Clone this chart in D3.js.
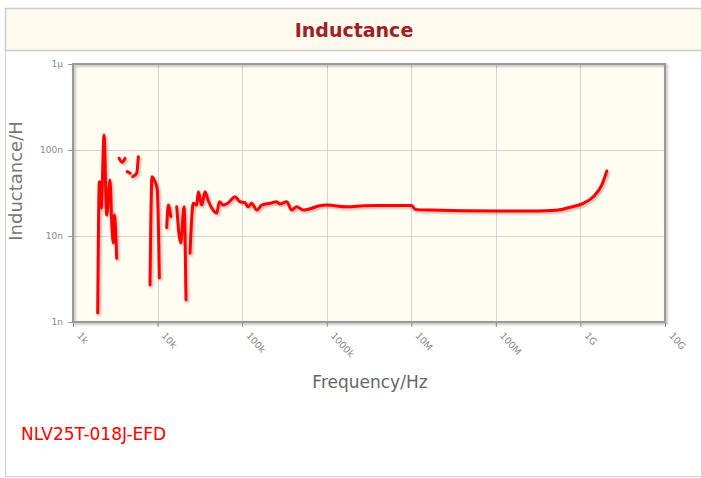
<!DOCTYPE html>
<html lang="en">
<head>
<meta charset="utf-8" />
<script src="https://d3js.org/d3.v7.min.js"></script>
<style>
  body { margin: 0; background: #fff; font-family: "DejaVu Sans", sans-serif; }
</style>
</head>
<body>
<div id="chart"></div>
<script>
// frequency in Hz, inductance in nH; null marks a gap in the trace
var freqHz = [
  1960, 2050, 2126, 2161, 2326, 2503, 2738, 2869, 2996, 3079, 3287, null,
  3499, 3828, 4120, null,
  4386, 4721, null,
  5081, 5665, 5919, null,
  8139, 8596, 9324, 9927, 10484, null,
  12823, 13397, 14296, null,
  16832, 18770, 20540, 21680, null,
  24180, 26450, 29020, 30310, 33250, 36390, 39460, 43650, 50040, 53700, 59840,
  68070, 82330, 94340, 108100, 117300, 129700, 148600, 170300, 213400, 256300,
  280300, 336500, 385500, 441700, 528600, 664200, 795700, 1.0e6, 1.72e6, 2.71e6,
  4.27e6, 1.01e7, 1.107e7, 1.66e7, 1.02e8, 3.04e8, 5.14e8, 7.53e8, 1.08e9,
  1.42e9, 1.79e9, 2.05e9
];
var inductanceNH = [
  1.27, 42.8, 41.3, 21.2, 149, 17.5, 44.8, 14.2, 8.3, 17.5, 5.5, null,
  80, 72, 80, null,
  56, 53.6, null,
  49, 53.6, 83.6, null,
  2.69, 49, 42.8, 34.3, 3.25, null,
  12.5, 22.9, 16.8, null,
  21.9, 8.3, 21.9, 1.8, null,
  6.3, 24, 22.9, 32.7, 22.9, 32.7, 26.2, 21.2, 18.5, 25, 22.9,
  24.2, 28.6, 25, 24.4, 21.9, 24, 20, 22.9, 24, 25,
  23.6, 25, 20, 21.9, 20, 21, 22.3, 22.9, 21.9, 22.5,
  22.7, 22.7, 20.4, 20, 19.5, 19.5, 19.9, 21.6, 24,
  28.6, 39.2, 57
];
var xTickValues = [1e3, 1e4, 1e5, 1e6, 1e7, 1e8, 1e9, 1e10];
var xTickLabels = ["1k", "10k", "100k", "1000k", "10M", "100M", "1G", "10G"];
var yTickValues = [1, 10, 100, 1000];
var yTickLabels = ["1n", "10n", "100n", "1\u00b5"];

var W = 701, H = 478;
var plot = { left: 73, right: 665, top: 64, bottom: 322 };

var svg = d3.select("#chart").append("svg")
  .attr("width", W).attr("height", H);

var defs = svg.append("defs");
var f = defs.append("filter").attr("id", "shadow")
  .attr("x", "-5%").attr("y", "-5%").attr("width", "115%").attr("height", "115%");
f.append("feDropShadow").attr("dx", 1.5).attr("dy", 1.5)
  .attr("stdDeviation", 1).attr("flood-color", "#000").attr("flood-opacity", 0.3);

// outer panel
svg.append("rect").attr("x", 5.5).attr("y", 8.5).attr("width", 710).attr("height", 468)
  .attr("fill", "#fff").attr("stroke", "#ccc");
svg.append("rect").attr("x", 5.5).attr("y", 8.5).attr("width", 710).attr("height", 42)
  .attr("fill", "#fffaee").attr("stroke", "#ccc").attr("stroke-width", 1.5);
svg.append("text").attr("x", 354).attr("y", 37).attr("text-anchor", "middle")
  .attr("font-size", 19).attr("font-weight", "bold").attr("fill", "#9b2226")
  .text("Inductance");

var x = d3.scaleLog().domain([1e3, 1e10]).range([plot.left, plot.right]);
var y = d3.scaleLog().domain([1, 1000]).range([plot.bottom, plot.top]);

// plot background
svg.append("rect").attr("x", plot.left).attr("y", plot.top)
  .attr("width", plot.right - plot.left).attr("height", plot.bottom - plot.top)
  .attr("fill", "#fffcf2");

// grid
svg.append("g").selectAll("line").data(xTickValues.slice(1, -1)).join("line")
  .attr("x1", d => Math.round(x(d)) + 0.5).attr("x2", d => Math.round(x(d)) + 0.5)
  .attr("y1", plot.top).attr("y2", plot.bottom)
  .attr("stroke", "#d4d4d4");
svg.append("g").selectAll("line").data(yTickValues.slice(1, -1)).join("line")
  .attr("y1", d => Math.round(y(d)) + 0.5).attr("y2", d => Math.round(y(d)) + 0.5)
  .attr("x1", plot.left).attr("x2", plot.right)
  .attr("stroke", "#d4d4d4");

// axes
var xAxis = svg.append("g").attr("transform", "translate(0," + plot.bottom + ")")
  .call(d3.axisBottom(x).tickValues(xTickValues)
    .tickFormat((d, i) => xTickLabels[i]).tickSize(5).tickPadding(4));
xAxis.select(".domain").remove();
xAxis.selectAll(".tick line").attr("stroke", "#999");
xAxis.selectAll(".tick text")
  .attr("fill", "#888").attr("font-size", 9.5).attr("font-family", "DejaVu Sans")
  .attr("text-anchor", "start").attr("dy", 0).attr("y", 0)
  .attr("transform", "translate(3,14) rotate(48)");

var yAxis = svg.append("g").attr("transform", "translate(" + plot.left + ",0)")
  .call(d3.axisLeft(y).tickValues(yTickValues)
    .tickFormat((d, i) => yTickLabels[i]).tickSize(5).tickPadding(5));
yAxis.select(".domain").remove();
yAxis.selectAll(".tick line").attr("stroke", "#999");
yAxis.selectAll(".tick text")
  .attr("fill", "#888").attr("font-size", 9).attr("font-family", "DejaVu Sans");

// plot border with shadow
svg.append("rect").attr("x", plot.left).attr("y", plot.top)
  .attr("width", plot.right - plot.left).attr("height", plot.bottom - plot.top)
  .attr("fill", "none").attr("stroke", "#999").attr("stroke-width", 2)
  .attr("filter", "url(#shadow)");

// data line
var pts = freqHz.map((fr, i) => ({ f: fr, l: inductanceNH[i] }));
var line = d3.line()
  .defined(d => d.f != null && d.l != null)
  .x(d => x(d.f)).y(d => y(d.l))
  .curve(d3.curveMonotoneX);
svg.append("path").datum(pts)
  .attr("d", line)
  .attr("fill", "none").attr("stroke", "#ff0000").attr("stroke-width", 3)
  .attr("stroke-linejoin", "round").attr("stroke-linecap", "round")
  .attr("filter", "url(#shadow)");

// axis titles
svg.append("text")
  .attr("transform", "translate(22,181) rotate(-90)")
  .attr("text-anchor", "middle").attr("font-size", 18).attr("fill", "#777")
  .text("Inductance/H");
svg.append("text").attr("x", 370).attr("y", 388).attr("text-anchor", "middle")
  .attr("font-size", 17).attr("fill", "#666")
  .text("Frequency/Hz");

svg.append("text").attr("x", 21).attr("y", 440)
  .attr("font-size", 17).attr("fill", "#ff0000")
  .text("NLV25T-018J-EFD");
</script>
</body>
</html>
